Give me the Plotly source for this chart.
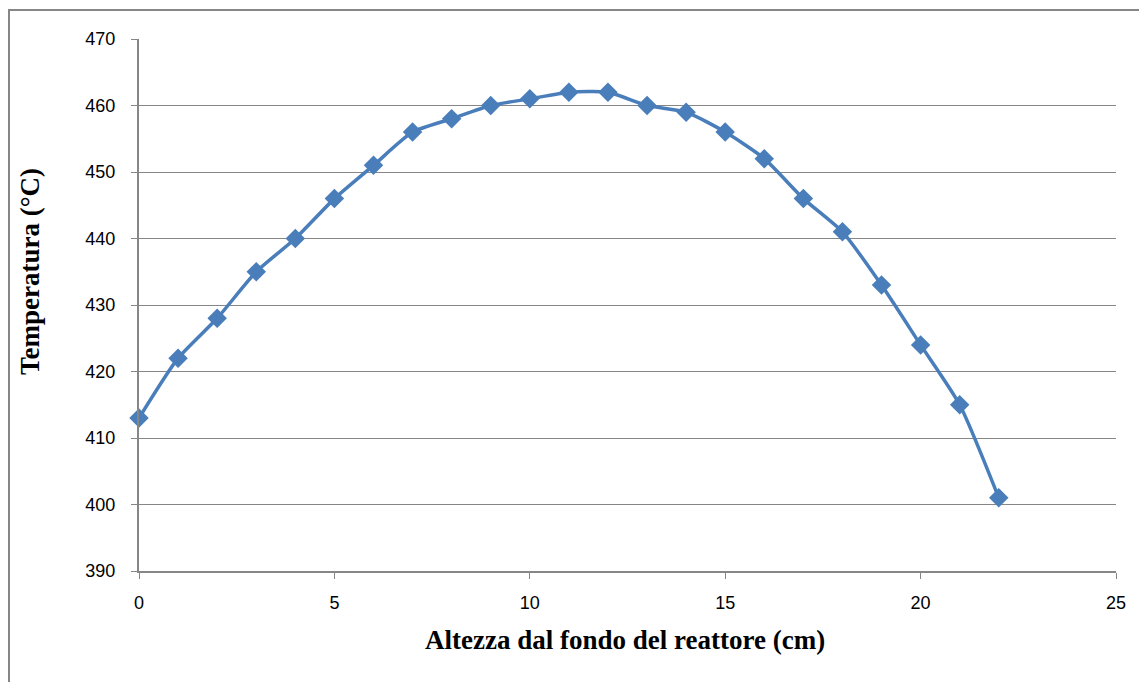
import plotly.graph_objects as go

altezza = [0, 1, 2, 3, 4, 5, 6, 7, 8, 9, 10, 11, 12, 13, 14, 15, 16, 17, 18, 19, 20, 21, 22]
temperatura = [413, 422, 428, 435, 440, 446, 451, 456, 458, 460, 461, 462, 462, 460, 459, 456, 452, 446, 441, 433, 424, 415, 401]
x_ticks = [0, 5, 10, 15, 20, 25]
y_ticks = [390, 400, 410, 420, 430, 440, 450, 460, 470]

W, H = 1147, 682
OFF = 8  # page body margin
L, R, T, B = 139 - OFF, 39, 39 - OFF, 119

fig = go.Figure()
fig.add_trace(go.Scatter(
    x=altezza, y=temperatura, mode="lines+markers",
    line=dict(color="#4a7ebb", width=3.5, shape="spline", smoothing=0.6),
    marker=dict(symbol="diamond", size=15, color="#4a7ebb"),
    showlegend=False, cliponaxis=False,
))

grid = "#868686"
tickfont = dict(family="Liberation Sans", size=18, color="black")
titlefont = dict(family="Liberation Serif", size=27, color="black", weight="bold")
fig.update_layout(
    width=W, height=H,
    margin=dict(l=L, r=R, t=T, b=B),
    paper_bgcolor="white", plot_bgcolor="white",
    xaxis=dict(
        range=[0, 25], tickvals=x_ticks, ticks="outside", ticklen=6,
        tickcolor=grid, showline=True, linecolor=grid, linewidth=2,
        showgrid=False, zeroline=False, tickfont=tickfont,
        ticklabelstandoff=8,
    ),
    yaxis=dict(
        range=[390, 470], tickvals=y_ticks, ticks="outside", ticklen=6,
        tickcolor=grid, showline=True, linecolor=grid, linewidth=2,
        showgrid=True, gridcolor=grid, gridwidth=1, zeroline=False,
        tickfont=tickfont, ticklabelstandoff=12,
    ),
)

pw, ph = W - L - R, H - T - B
def px(xp):
    return (xp - OFF - L) / pw
def py(yp):
    return (H - B - (yp - OFF)) / ph

fig.add_annotation(text="Altezza dal fondo del reattore (cm)", xref="paper", yref="paper",
                   x=px(625), y=py(640), showarrow=False, font=titlefont,
                   xanchor="center", yanchor="middle")
fig.add_annotation(text="Temperatura (°C)", xref="paper", yref="paper",
                   x=px(30), y=py(272), showarrow=False, font=titlefont, textangle=-90,
                   xanchor="center", yanchor="middle")

fig.add_shape(type="rect", xref="paper", yref="paper",
              x0=px(9), x1=px(W + 30),
              y0=py(H + 30), y1=py(10),
              line=dict(color=grid, width=2), fillcolor="rgba(0,0,0,0)", layer="below")

fig.write_html("out.html")
